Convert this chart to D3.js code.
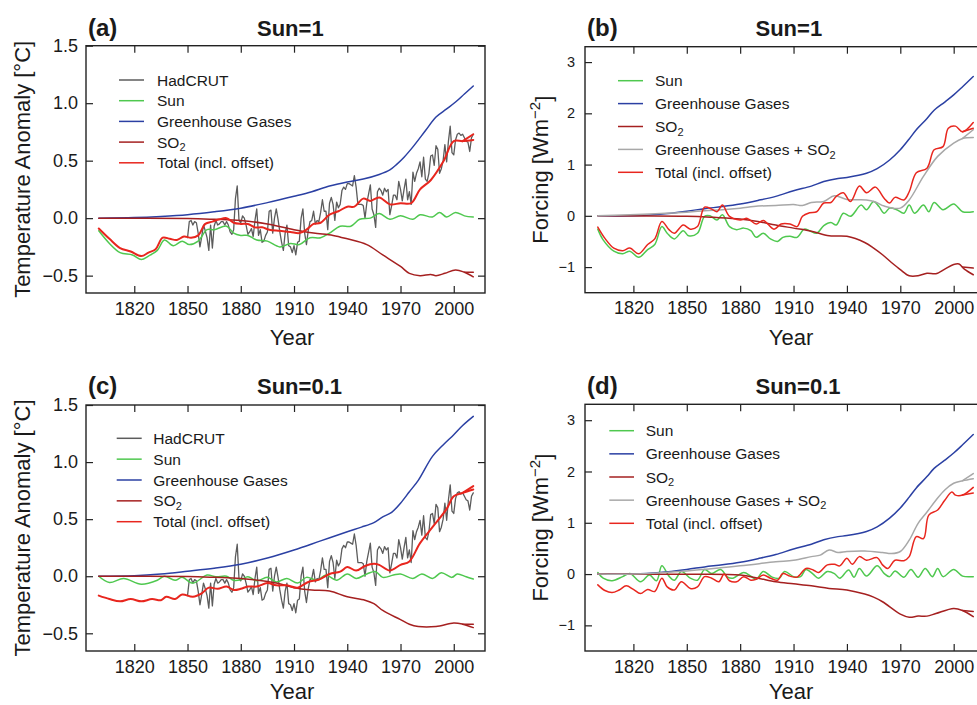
<!DOCTYPE html>
<html lang="en">
<head>
<meta charset="UTF-8">
<title>Sun, greenhouse gases and SO2: temperature and forcing</title>
<script src="https://d3js.org/d3.v7.min.js"></script>
<style>
  body { margin: 0; background: #fff; }
  svg { display: block; font-family: "Liberation Sans", Arial, Helvetica, sans-serif; }
  .tick line { stroke: #222; stroke-width: 1.2; }
  .tick text { fill: #1a1a1a; }
  .series { fill: none; stroke-linejoin: round; stroke-linecap: round; }
</style>
</head>
<body>
<svg width="977" height="705"></svg>
<script>
// ---- data ----
const yearTicks = [1820, 1850, 1880, 1910, 1940, 1970, 2000];
const tempTicks = [-0.5, 0, 0.5, 1, 1.5];
const forcTicks = [-1, 0, 1, 2, 3];
const xDomain = [1792.8, 2017.6];

// HadCRUT annual anomaly (incl. offset), 1850 onwards
const hadcrutStart = 1850;
const hadcrut = [
  -0.17,-0.03,-0.02,-0.06,-0.03,-0.04,-0.13,-0.25,-0.16,-0.06,
  -0.11,-0.17,-0.28,-0.06,-0.26,-0.07,-0.02,-0.06,-0.05,-0.03,
  -0.03,-0.06,-0.03,-0.06,-0.12,-0.14,-0.10, 0.17, 0.28,-0.02,
  -0.04, 0.02, 0.00,-0.06,-0.14,-0.12,-0.09,-0.16,-0.02, 0.08,
  -0.15,-0.10,-0.21,-0.20,-0.15,-0.12, 0.06, 0.07,-0.13, 0.00,
   0.08,-0.01,-0.12,-0.21,-0.28,-0.13,-0.06,-0.24,-0.25,-0.30,
  -0.24,-0.32,-0.21,-0.20, 0.00, 0.08,-0.13,-0.23,-0.11,-0.03,
  -0.02, 0.06,-0.05,-0.02,-0.03, 0.05, 0.16, 0.06, 0.06,-0.10,
   0.13, 0.18, 0.12,-0.02, 0.14, 0.09, 0.12, 0.24, 0.27, 0.25,
   0.30, 0.30, 0.29, 0.28, 0.37, 0.27, 0.12, 0.12, 0.12, 0.11,
   0.00, 0.13, 0.21, 0.29, 0.08, 0.03,-0.08, 0.23, 0.26, 0.24,
   0.20, 0.26, 0.23, 0.25, 0.03, 0.11, 0.20, 0.20, 0.16, 0.32,
   0.25, 0.15, 0.25, 0.34, 0.16, 0.23, 0.12, 0.40, 0.32, 0.39,
   0.43, 0.49, 0.36, 0.53, 0.34, 0.32, 0.39, 0.54, 0.55, 0.46,
   0.63, 0.60, 0.39, 0.43, 0.50, 0.64, 0.49, 0.67, 0.80, 0.57,
   0.55, 0.68, 0.73, 0.74, 0.72, 0.73, 0.70, 0.67, 0.66, 0.58,
   0.70, 0.73
];

// (a) temperature response, Sun=1   [year, °C]
const sunTa = [[1800,-0.11],[1806,-0.22],[1812,-0.30],[1819,-0.32],[1824,-0.36],[1828,-0.33],[1833,-0.28],[1837,-0.19],[1842,-0.24],[1847,-0.20],[1851,-0.23],[1856,-0.20],[1861,-0.10],[1865,-0.10],[1872,-0.07],[1876,-0.13],[1880,-0.15],[1884,-0.15],[1889,-0.19],[1895,-0.20],[1902,-0.25],[1908,-0.22],[1913,-0.23],[1919,-0.17],[1925,-0.17],[1930,-0.13],[1936,-0.07],[1942,-0.07],[1947,-0.01],[1953,0.00],[1958,0.04],[1964,-0.01],[1970,0.02],[1977,-0.01],[1981,0.03],[1988,0.01],[1992,0.05],[1996,0.01],[2001,0.05],[2006,0.02],[2011,0.01]];
const ghgTa = [[1800,0],[1820,0.005],[1835,0.015],[1850,0.03],[1865,0.055],[1880,0.087],[1895,0.135],[1910,0.19],[1920,0.23],[1930,0.28],[1940,0.315],[1949,0.34],[1958,0.38],[1964,0.42],[1968,0.47],[1972,0.53],[1977,0.62],[1984,0.76],[1990,0.88],[1996,0.95],[2001,1.01],[2006,1.08],[2011,1.15]];
const so2Ta = [[1800,0],[1850,-0.003],[1865,-0.01],[1880,-0.02],[1895,-0.05],[1910,-0.10],[1921,-0.13],[1932,-0.15],[1940,-0.18],[1951,-0.23],[1960,-0.32],[1970,-0.42],[1975,-0.48],[1981,-0.50],[1987,-0.49],[1990,-0.50],[1995,-0.48],[2001,-0.45],[2006,-0.47],[2011,-0.51]];
const so2TaAlt = [[2006,-0.47],[2011,-0.47]];
const totalTa = [[1800,-0.09],[1806,-0.18],[1812,-0.26],[1818,-0.29],[1824,-0.33],[1828,-0.30],[1832,-0.27],[1836,-0.17],[1840,-0.18],[1844,-0.19],[1848,-0.16],[1852,-0.17],[1856,-0.15],[1860,-0.05],[1864,-0.03],[1868,-0.01],[1872,0.00],[1876,-0.04],[1880,-0.05],[1884,-0.05],[1888,-0.08],[1892,-0.08],[1896,-0.10],[1902,-0.11],[1908,-0.12],[1913,-0.13],[1917,-0.10],[1921,-0.05],[1925,-0.04],[1930,0.03],[1935,0.06],[1940,0.10],[1944,0.10],[1949,0.17],[1953,0.15],[1958,0.18],[1964,0.12],[1970,0.13],[1976,0.13],[1981,0.25],[1987,0.33],[1994,0.49],[2000,0.67],[2005,0.67],[2011,0.68]];
const totalTaAlt = [[2005,0.67],[2011,0.73]];

// (b) forcing, Sun=1   [year, W m-2]
const sunFb = [[1800,-0.26],[1803,-0.47],[1809,-0.69],[1814,-0.74],[1818,-0.69],[1823,-0.81],[1828,-0.66],[1832,-0.56],[1836,-0.21],[1839,-0.34],[1843,-0.45],[1848,-0.29],[1851,-0.39],[1856,-0.34],[1860,-0.01],[1863,0.00],[1867,-0.08],[1870,0.02],[1874,-0.21],[1878,-0.27],[1882,-0.24],[1886,-0.29],[1889,-0.42],[1893,-0.34],[1897,-0.45],[1901,-0.50],[1904,-0.42],[1908,-0.40],[1912,-0.42],[1916,-0.26],[1919,-0.29],[1923,-0.34],[1927,-0.19],[1931,-0.13],[1934,-0.18],[1938,0.05],[1942,-0.01],[1948,0.21],[1951,0.12],[1955,0.28],[1958,0.18],[1961,0.05],[1964,0.15],[1968,0.12],[1972,0.05],[1975,0.21],[1978,0.05],[1983,0.21],[1986,0.08],[1989,0.26],[1994,0.12],[2000,0.23],[2005,0.08],[2011,0.08]];
const ghgF = [[1800,0],[1820,0.0],[1835,0.03],[1850,0.09],[1860,0.14],[1870,0.18],[1880,0.23],[1890,0.30],[1900,0.38],[1910,0.49],[1920,0.58],[1927,0.67],[1935,0.73],[1940,0.75],[1951,0.83],[1957,0.92],[1964,1.09],[1970,1.29],[1975,1.50],[1979,1.68],[1985,1.90],[1989,2.06],[1995,2.22],[2000,2.36],[2005,2.52],[2011,2.72]];
const so2Fb = [[1800,0],[1850,-0.01],[1865,-0.03],[1880,-0.06],[1890,-0.11],[1900,-0.18],[1910,-0.24],[1920,-0.30],[1930,-0.39],[1940,-0.40],[1950,-0.52],[1955,-0.63],[1960,-0.76],[1965,-0.91],[1970,-1.05],[1975,-1.17],[1980,-1.17],[1985,-1.12],[1990,-1.13],[1995,-1.04],[2000,-0.95],[2003,-0.94],[2006,-1.04],[2011,-1.15]];
const so2FbAlt = [[2005,-1.00],[2011,-1.02]];
const ghgSo2Fb = [[1800,0],[1850,0.07],[1860,0.10],[1870,0.12],[1880,0.15],[1890,0.19],[1900,0.20],[1910,0.22],[1915,0.20],[1920,0.26],[1927,0.28],[1933,0.39],[1940,0.32],[1951,0.31],[1956,0.27],[1961,0.19],[1970,0.15],[1975,0.31],[1983,0.77],[1991,1.16],[2000,1.42],[2005,1.51],[2011,1.53]];
const ghgSo2FbAlt = [[2005,1.51],[2011,1.68]];
const totalFb = [[1800,-0.22],[1804,-0.44],[1809,-0.63],[1814,-0.68],[1818,-0.63],[1823,-0.74],[1828,-0.56],[1832,-0.45],[1836,-0.11],[1840,-0.27],[1843,-0.34],[1848,-0.18],[1852,-0.26],[1856,-0.21],[1860,0.17],[1864,0.13],[1867,0.08],[1870,0.21],[1874,-0.01],[1880,-0.08],[1884,-0.05],[1889,-0.16],[1893,-0.09],[1899,-0.26],[1903,-0.16],[1908,-0.16],[1912,-0.21],[1915,-0.01],[1919,0.06],[1923,0.08],[1927,0.25],[1931,0.26],[1934,0.38],[1938,0.45],[1942,0.28],[1947,0.58],[1951,0.45],[1956,0.56],[1961,0.34],[1964,0.25],[1967,0.36],[1972,0.31],[1975,0.47],[1979,0.84],[1985,0.93],[1989,1.29],[1994,1.35],[1997,1.71],[2001,1.75],[2005,1.64],[2011,1.82]];
const totalFbAlt = [[2005,1.64],[2011,1.71]];

// (c) temperature response, Sun=0.1
const sunTc = [[1800,0],[1806,-0.055],[1814,-0.02],[1824,-0.07],[1833,-0.035],[1837,0],[1843,-0.035],[1847,-0.01],[1853,-0.06],[1861,0.01],[1866,-0.005],[1872,0],[1876,-0.035],[1880,-0.03],[1884,-0.005],[1889,-0.04],[1895,-0.01],[1900,-0.05],[1906,-0.02],[1912,-0.06],[1917,-0.01],[1923,-0.035],[1928,0.01],[1934,-0.035],[1940,0.02],[1945,-0.02],[1951,0.02],[1956,0.04],[1960,-0.01],[1966,0.01],[1970,0.02],[1977,-0.02],[1982,0.02],[1988,-0.02],[1993,0.03],[1999,-0.01],[2002,0.02],[2007,-0.005],[2011,-0.025]];
const ghgTc = [[1800,0],[1820,0.005],[1835,0.02],[1850,0.044],[1865,0.07],[1880,0.105],[1895,0.16],[1910,0.23],[1925,0.31],[1940,0.39],[1948,0.43],[1955,0.47],[1960,0.52],[1965,0.56],[1970,0.64],[1975,0.74],[1980,0.84],[1988,1.05],[1994,1.15],[2000,1.24],[2005,1.32],[2011,1.40]];
const so2Tc = [[1800,0],[1850,-0.003],[1865,-0.01],[1880,-0.02],[1900,-0.06],[1910,-0.10],[1920,-0.12],[1930,-0.13],[1940,-0.18],[1950,-0.21],[1955,-0.24],[1960,-0.30],[1970,-0.38],[1975,-0.42],[1980,-0.44],[1990,-0.44],[2000,-0.41],[2005,-0.42],[2011,-0.45]];
const so2TcAlt = [[2005,-0.42],[2011,-0.42]];
const totalTc = [[1800,-0.17],[1806,-0.20],[1812,-0.22],[1818,-0.20],[1824,-0.22],[1830,-0.20],[1835,-0.21],[1838,-0.18],[1843,-0.20],[1847,-0.16],[1853,-0.18],[1858,-0.15],[1862,-0.10],[1867,-0.11],[1872,-0.09],[1876,-0.12],[1880,-0.11],[1884,-0.09],[1889,-0.09],[1895,-0.06],[1900,-0.08],[1906,-0.08],[1912,-0.10],[1918,-0.05],[1924,-0.03],[1930,0.02],[1936,0.04],[1940,0.08],[1945,0.05],[1950,0.09],[1955,0.11],[1958,0.10],[1964,0.05],[1970,0.10],[1975,0.13],[1981,0.29],[1988,0.43],[1996,0.59],[2000,0.70],[2005,0.73],[2011,0.76]];
const totalTcAlt = [[2005,0.73],[2011,0.79]];

// (d) forcing, Sun=0.1
const sunFd = [[1800,0.03],[1803,-0.08],[1808,-0.13],[1814,-0.05],[1818,0.01],[1824,-0.15],[1829,-0.02],[1833,-0.13],[1836,0.16],[1840,-0.04],[1843,-0.12],[1847,0.05],[1852,-0.08],[1856,-0.12],[1860,0.09],[1864,0.01],[1869,0.09],[1873,-0.06],[1876,-0.08],[1882,0.03],[1886,-0.04],[1889,-0.10],[1893,0.05],[1898,-0.06],[1902,-0.08],[1905,0.05],[1910,-0.05],[1914,-0.05],[1917,0.09],[1921,0.00],[1924,-0.08],[1929,0.05],[1933,0.01],[1936,-0.08],[1941,0.08],[1944,-0.06],[1947,0.11],[1951,-0.04],[1957,0.16],[1961,0.01],[1964,-0.05],[1967,0.06],[1972,-0.06],[1976,0.09],[1980,-0.06],[1984,0.11],[1988,-0.05],[1991,0.11],[1994,-0.05],[2000,0.09],[2005,-0.04],[2011,-0.05]];
const so2Fd = [[1800,0],[1850,-0.005],[1880,-0.02],[1890,-0.08],[1900,-0.15],[1910,-0.19],[1920,-0.23],[1930,-0.28],[1940,-0.31],[1950,-0.39],[1955,-0.45],[1960,-0.54],[1970,-0.78],[1975,-0.84],[1980,-0.82],[1985,-0.82],[1990,-0.77],[2000,-0.67],[2005,-0.71],[2011,-0.83]];
const so2FdAlt = [[2005,-0.71],[2011,-0.73]];
const ghgSo2Fd = [[1800,0],[1820,0],[1850,0.06],[1880,0.16],[1900,0.24],[1910,0.27],[1920,0.34],[1925,0.37],[1930,0.47],[1935,0.42],[1940,0.44],[1950,0.45],[1960,0.42],[1965,0.40],[1970,0.44],[1975,0.66],[1980,0.99],[1985,1.21],[1990,1.44],[1995,1.64],[2000,1.77],[2005,1.82],[2011,1.86]];
const ghgSo2FdAlt = [[2005,1.82],[2011,1.96]];
const totalFd = [[1800,-0.21],[1804,-0.32],[1808,-0.36],[1812,-0.31],[1816,-0.23],[1820,-0.30],[1824,-0.38],[1828,-0.30],[1832,-0.34],[1836,-0.08],[1839,-0.25],[1843,-0.31],[1847,-0.15],[1852,-0.28],[1856,-0.25],[1860,-0.05],[1864,-0.08],[1868,-0.15],[1871,0.00],[1874,-0.13],[1878,-0.15],[1882,-0.05],[1886,-0.12],[1889,-0.10],[1893,-0.02],[1897,-0.08],[1901,-0.12],[1904,0.01],[1908,-0.04],[1912,-0.06],[1917,0.11],[1921,0.08],[1924,0.03],[1929,0.18],[1933,0.19],[1936,0.16],[1940,0.31],[1943,0.19],[1947,0.34],[1951,0.27],[1957,0.32],[1960,0.18],[1963,0.11],[1967,0.27],[1972,0.26],[1975,0.34],[1979,0.73],[1983,0.69],[1986,1.15],[1991,1.25],[1995,1.44],[1999,1.60],[2001,1.54],[2005,1.54],[2011,1.69]];
const totalFdAlt = [[2005,1.54],[2011,1.58]];

const tempLegend = ["HadCRUT", "Sun", "Greenhouse Gases", "SO2", "Total (incl. offset)"];
const forcLegend = ["Sun", "Greenhouse Gases", "SO2", "Greenhouse Gases + SO2", "Total (incl. offset)"];

// ---- styling ----
const col = {
  had: "#5c5c5c", sun: "#4fc84f", ghg: "#2b40a3", so2: "#a52020",
  both: "#a8a8a8", total: "#e8261e"
};
const ink = "#1a1a1a";
const hadPts = hadcrut.map((v, i) => [hadcrutStart + i, v]);

const tempSeries = (sun, ghg, so2, so2Alt, tot, totAlt) => [
  { data: hadPts, color: col.had, w: 1.3, linear: true },
  { data: sun, color: col.sun, w: 1.5 },
  { data: ghg, color: col.ghg, w: 1.5 },
  { data: so2, color: col.so2, w: 1.5 }, { data: so2Alt, color: col.so2, w: 1.5 },
  { data: tot, color: col.total, w: 2 }, { data: totAlt, color: col.total, w: 2 }
];
const forcSeries = (sun, ghg, so2, so2Alt, both, bothAlt, tot, totAlt) => [
  { data: sun, color: col.sun, w: 1.5 },
  { data: ghg, color: col.ghg, w: 1.5 },
  { data: so2, color: col.so2, w: 1.5 }, { data: so2Alt, color: col.so2, w: 1.5 },
  { data: both, color: col.both, w: 1.5 }, { data: bothAlt, color: col.both, w: 1.5 },
  { data: tot, color: col.total, w: 1.5 }, { data: totAlt, color: col.total, w: 1.5 }
];

const panels = [
  { letter: "(a)", title: "Sun=1", titleX: 257, headY: 36, yearGap: 52,
    left: 86, top: 45.7, width: 399, height: 247.3, yDomain: [-0.651, 1.5],
    yTicks: tempTicks, yFmt: d3.format(".1f"), yFont: 18, yPad: 8, kind: "temp", yTitleX: 22,
    series: tempSeries(sunTa, ghgTa, so2Ta, so2TaAlt, totalTa, totalTaAlt),
    legend: tempLegend, legColors: [col.had, col.sun, col.ghg, col.so2, col.total],
    leg: { x1: 119, x2: 144, tx: 157, y0: 80, step: 20.7 } },
  { letter: "(b)", title: "Sun=1", titleX: 755.5, headY: 36, yearGap: 52,
    left: 585, top: 46.7, width: 400, height: 246, yDomain: [-1.5, 3.3],
    yTicks: forcTicks, yFmt: d3.format("d"), yFont: 14.5, yPad: 10, kind: "forc", yTitleX: 540,
    series: forcSeries(sunFb, ghgF, so2Fb, so2FbAlt, ghgSo2Fb, ghgSo2FbAlt, totalFb, totalFbAlt),
    legend: forcLegend, legColors: [col.sun, col.ghg, col.so2, col.both, col.total],
    leg: { x1: 618, x2: 643, tx: 655, y0: 80.7, step: 22.9 } },
  { letter: "(c)", title: "Sun=0.1", titleX: 257, headY: 394, yearGap: 48,
    left: 86, top: 405, width: 399, height: 246, yDomain: [-0.655, 1.5],
    yTicks: tempTicks, yFmt: d3.format(".1f"), yFont: 18, yPad: 8, kind: "temp", yTitleX: 22,
    series: tempSeries(sunTc, ghgTc, so2Tc, so2TcAlt, totalTc, totalTcAlt),
    legend: tempLegend, legColors: [col.had, col.sun, col.ghg, col.so2, col.total],
    leg: { x1: 116.7, x2: 141.7, tx: 153.3, y0: 438.3, step: 20.85 } },
  { letter: "(d)", title: "Sun=0.1", titleX: 755.5, headY: 394, yearGap: 48,
    left: 585, top: 404.3, width: 400, height: 246.7, yDomain: [-1.5, 3.31],
    yTicks: forcTicks, yFmt: d3.format("d"), yFont: 14.5, yPad: 10, kind: "forc", yTitleX: 540,
    series: forcSeries(sunFd, ghgF, so2Fd, so2FdAlt, ghgSo2Fd, ghgSo2FdAlt, totalFd, totalFdAlt),
    legend: forcLegend, legColors: [col.sun, col.ghg, col.so2, col.both, col.total],
    leg: { x1: 609.3, x2: 634, tx: 645.7, y0: 430.7, step: 23.15 } }
];

const svg = d3.select("svg");

// writes a label, turning a trailing "SO2" into SO with subscript 2
function labelText(sel, s) {
  if (s.endsWith("SO2")) {
    sel.append("tspan").text(s.slice(0, -1));
    sel.append("tspan").attr("dy", "0.32em").style("font-size", "11px").text("2");
  } else {
    sel.text(s);
  }
}

panels.forEach(p => {
  const x = d3.scaleLinear().domain(xDomain).range([p.left, p.left + p.width]);
  const y = d3.scaleLinear().domain(p.yDomain).range([p.top + p.height, p.top]);
  const g = svg.append("g");
  const bottom = p.top + p.height, right = p.left + p.width;

  // series
  p.series.forEach(s => {
    const line = d3.line().x(d => x(d[0])).y(d => y(d[1]))
      .curve(s.linear ? d3.curveLinear : d3.curveCatmullRom.alpha(0.5));
    g.append("path").attr("class", "series")
      .attr("d", line(s.data))
      .attr("stroke", s.color).attr("stroke-width", s.w);
  });

  // frame
  g.append("rect").attr("x", p.left).attr("y", p.top)
    .attr("width", p.width).attr("height", p.height)
    .attr("fill", "none").attr("stroke", "#222").attr("stroke-width", 1.4);

  // axes: ticks point inwards on all four sides, labels on bottom and left
  const styleAxis = (a, size) => {
    a.attr("font-family", null).attr("font-size", null);
    a.select(".domain").remove();
    a.selectAll("text").style("font-size", size + "px");
  };
  g.append("g").attr("transform", `translate(0,${bottom})`)
    .call(d3.axisBottom(x).tickValues(yearTicks).tickFormat(d3.format("d"))
      .tickSizeInner(-7).tickSizeOuter(0).tickPadding(9))
    .call(a => styleAxis(a, 18));
  g.append("g").attr("transform", `translate(0,${p.top})`)
    .call(d3.axisTop(x).tickValues(yearTicks).tickFormat("").tickSizeInner(-7).tickSizeOuter(0))
    .call(a => styleAxis(a, 18));
  g.append("g").attr("transform", `translate(${p.left},0)`)
    .call(d3.axisLeft(y).tickValues(p.yTicks).tickFormat(p.yFmt)
      .tickSizeInner(-7).tickSizeOuter(0).tickPadding(p.yPad))
    .call(a => styleAxis(a, p.yFont));
  g.append("g").attr("transform", `translate(${right},0)`)
    .call(d3.axisRight(y).tickValues(p.yTicks).tickFormat("").tickSizeInner(-7).tickSizeOuter(0))
    .call(a => styleAxis(a, p.yFont));

  // axis titles
  g.append("text").attr("x", p.left + 206).attr("y", bottom + p.yearGap)
    .attr("text-anchor", "middle").attr("fill", ink).style("font-size", "22px").text("Year");

  const yt = g.append("text")
    .attr("transform", `translate(${p.yTitleX},${p.top + p.height / 2}) rotate(-90)`)
    .attr("text-anchor", "middle").attr("dy", "0.35em").attr("fill", ink)
    .style("font-size", "22px");
  if (p.kind === "temp") {
    yt.text("Temperature Anomaly [°C]");
  } else {
    yt.append("tspan").text("Forcing [Wm");
    yt.append("tspan").attr("dy", "-0.5em").style("font-size", "15px").text("\u22122");
    yt.append("tspan").attr("dy", "0.5em").text("]");
  }

  // headings
  g.append("text").attr("x", p.left + 2).attr("y", p.headY).attr("fill", ink)
    .style("font-size", "24px").style("font-weight", "bold").text(p.letter);
  g.append("text").attr("x", p.titleX).attr("y", p.headY).attr("fill", ink)
    .style("font-size", "22px").style("font-weight", "bold").text(p.title);

  // legend
  p.legend.forEach((name, i) => {
    const cy = p.leg.y0 + i * p.leg.step;
    g.append("line").attr("x1", p.leg.x1).attr("x2", p.leg.x2)
      .attr("y1", cy).attr("y2", cy)
      .attr("stroke", p.legColors[i]).attr("stroke-width", 1.5);
    const t = g.append("text").attr("x", p.leg.tx).attr("y", cy).attr("dy", "0.36em")
      .attr("fill", ink).style("font-size", "15.5px");
    labelText(t, name);
  });
});
</script>
</body>
</html>
